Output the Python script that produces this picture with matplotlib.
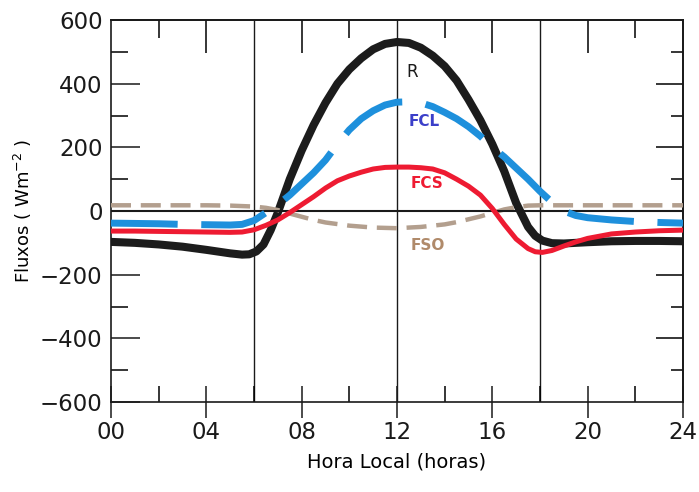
import numpy as np
import matplotlib
matplotlib.use('Agg')
import matplotlib.pyplot as plt

# valores (hora local, W m-2)
h_r = [0, 1, 2, 3, 4, 5, 5.5, 5.8, 6.1, 6.4, 6.7, 7, 7.5, 8, 8.5, 9, 9.5, 10, 10.5, 11,
       11.5, 12, 12.5, 13, 13.5, 14, 14.5, 15, 15.5, 16, 16.5, 17, 17.5, 17.8, 18.1,
       18.5, 19, 20, 21, 22, 23, 24]
r = [-97, -100, -105, -112, -122, -133, -137, -136, -127, -105, -60, -5, 100, 190, 270,
     340, 400, 445, 480, 508, 525, 531, 528, 513, 488, 455, 410, 350, 285, 210, 125, 25,
     -50, -78, -93, -101, -102, -98, -95, -94, -94, -95]

h_fcs = [0, 1, 2, 3, 4, 5, 5.5, 6, 6.5, 7, 7.5, 8, 8.5, 9, 9.5, 10, 10.5, 11, 11.5, 12,
         12.5, 13, 13.5, 14, 14.5, 15, 15.5, 16, 16.5, 17, 17.5, 17.8, 18.1, 18.5, 19,
         19.5, 20, 21, 22, 23, 24]
fcs = [-63, -63, -64, -65, -66, -67, -66, -59, -45, -28, -5, 20, 45, 72, 95, 110, 122,
       132, 137, 138, 138, 136, 132, 120, 100, 78, 50, 8, -42, -88, -118, -128, -130,
       -124, -110, -97, -86, -72, -66, -62, -60]

h_fcl = [0, 1, 2, 3, 4, 5, 5.5, 6, 6.5, 7, 7.5, 8, 8.5, 9, 9.5, 10, 10.5, 11, 11.5, 12,
         12.5, 13, 13.5, 14, 14.5, 15, 15.5, 16, 16.5, 17, 17.5, 18, 18.5, 19, 19.5, 20,
         21, 22, 23, 24]
fcl = [-38, -39, -40, -42, -43, -44, -42, -30, -5, 20, 50, 85, 120, 160, 210, 255, 290,
       315, 333, 342, 343, 340, 328, 310, 290, 265, 235, 200, 170, 135, 100, 62, 28, 0,
       -14, -21, -28, -33, -36, -38]

h_fso = [0, 2, 4, 5, 6, 6.5, 7, 7.5, 8, 8.5, 9, 10, 11, 12, 13, 14, 14.5, 15, 15.5, 16,
         16.5, 17, 17.5, 18, 20, 22, 24]
fso = [18, 18, 18, 17, 14, 10, 3, -8, -18, -28, -36, -46, -52, -54, -50, -42, -35, -26,
       -17, -6, 5, 12, 17, 18, 18, 18, 18]

xticks = [0, 4, 8, 12, 16, 20, 24]
xlabels = ['00', '04', '08', '12', '16', '20', '24']
yticks = [-600, -400, -200, 0, 200, 400, 600]
ylabels = ['\u2212600', '\u2212400', '\u2212200', '0', '200', '400', '600']

fig = plt.figure(figsize=(6.99, 4.92), dpi=100)
ax = fig.add_axes([0.1588, 0.1829, 0.8183, 0.7764])

for xv in [6, 12, 18]:
    ax.axvline(xv, color='#1a1a1a', lw=1.0, zorder=1)

ax.plot(h_r, r, color='#1c1c1c', lw=5.8, solid_joinstyle='round', zorder=2)
ax.plot(h_fso, fso, color='#b39f8e', lw=3.2, dashes=(4.5, 2.2), zorder=3)
ax.axhline(0, color='#1a1a1a', lw=1.5, zorder=4)
ax.plot(h_fcs, fcs, color='#ee1b32', lw=3.6, solid_joinstyle='round', zorder=5)
ax.plot(h_fcl, fcl, color='#1e90dc', lw=5.0, dashes=(9.6, 3.4),
        dash_joinstyle='round', zorder=6)

ax.text(12.63, 437, 'R', color='#1a1a1a', fontsize=12, ha='center', va='center')
ax.text(13.15, 280, 'FCL', color='#3b3fc9', fontsize=11, fontweight='bold', ha='center', va='center')
ax.text(13.26, 85, 'FCS', color='#ee1b32', fontsize=11, fontweight='bold', ha='center', va='center')
ax.text(13.3, -107, 'FSO', color='#b08a6a', fontsize=11, fontweight='bold', ha='center', va='center')

ax.set_xlim(0, 24)
ax.set_ylim(-600, 600)
ax.set_xticks(xticks)
ax.set_xticklabels(xlabels)
ax.set_xticks([2, 6, 10, 14, 18, 22], minor=True)
ax.set_yticks(yticks)
ax.set_yticklabels(ylabels)
ax.set_yticks([-500, -300, -100, 100, 300, 500], minor=True)

# comprimentos em pontos (px / 1.389)
ax.tick_params(axis='x', which='major', direction='inout', length=23, width=1.1,
               labelsize=16.5, pad=2, colors='#1a1a1a')
ax.tick_params(axis='x', which='minor', direction='in', length=11.5, width=1.1)
ax.tick_params(axis='y', which='major', direction='in', length=21, width=1.1,
               labelsize=16.5, pad=6, colors='#1a1a1a')
ax.tick_params(axis='y', which='minor', direction='in', length=12, width=1.1)

sx = ax.secondary_xaxis('top')
sx.set_xticks([4, 8, 16, 20])
sx.set_xticks([2, 10, 14, 22], minor=True)
sx.tick_params(which='major', direction='in', length=24, width=1.1, labeltop=False)
sx.tick_params(which='minor', direction='in', length=13, width=1.1)
sx.spines['top'].set_linewidth(1.2)

sy = ax.secondary_yaxis('right')
sy.set_yticks([-400, -200, 200, 400])
sy.set_yticks([-500, -300, -100, 100, 300, 500], minor=True)
sy.tick_params(which='major', direction='in', length=19.5, width=1.1, labelright=False)
sy.tick_params(which='minor', direction='in', length=8.6, width=1.1)
sy.spines['right'].set_linewidth(1.2)

for s in ax.spines.values():
    s.set_linewidth(1.2)
    s.set_color('#1a1a1a')

ax.set_xlabel('Hora Local (horas)', fontsize=14, labelpad=6)
ax.set_ylabel('Fluxos ( Wm$^{-2}$ )', fontsize=13, labelpad=4)

fig.savefig('out.png', dpi=100)
